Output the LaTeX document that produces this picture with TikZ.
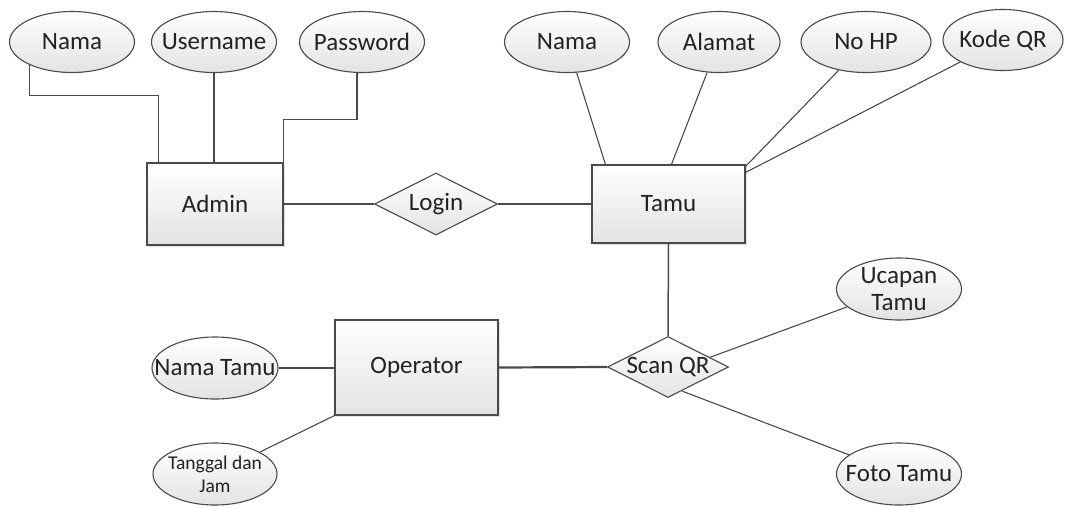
\documentclass[tikz,border=0pt]{standalone}
\usepackage{fontspec}
\setmainfont{Carlito}
\usetikzlibrary{shapes.geometric,shadows}

\definecolor{edge}{HTML}{4A4A4A}
\definecolor{ink}{HTML}{222222}

% text that does not widen the ellipse around it
\newcommand{\ztxt}[1]{\makebox[0pt]{#1}}

\tikzset{
  base/.style={draw=edge, line width=1.1pt, text=ink, inner sep=0pt,
    font=\fontsize{25}{27}\selectfont, top color=white, bottom color=black!11},
  attr/.style={base, ellipse, minimum width=125pt, minimum height=61pt},
  entity/.style={base, rectangle, align=center,
    drop shadow={shadow xshift=2pt, shadow yshift=-2pt, opacity=0.25, fill=black!45}},
  rel/.style={base, diamond, aspect=2},
  thin link/.style={draw=edge, line width=1.1pt},
  thick link/.style={draw=edge, line width=2.2pt},
}

\begin{document}
\begin{tikzpicture}[x=1pt, y=-1pt]
\useasboundingbox (0,0) rectangle (1068,507);

% entities
\node[entity, minimum width=136pt, minimum height=82pt] (admin) at (215,204) {Admin};
\node[entity, minimum width=153pt, minimum height=78pt] (tamu) at (668.5,204) {Tamu};
\node[entity, minimum width=163pt, minimum height=95pt] (op) at (416.5,367.5) {Operator};

% relationships
\node[rel, minimum width=123pt, minimum height=62pt] (login) at (436,204) {\ztxt{Login}};
\node[rel, minimum width=121pt, minimum height=61pt] (scan) at (668,367) {\ztxt{Scan QR}};

% attributes of Admin
\node[attr] (anama) at (72,42) {\ztxt{Nama}};
\node[attr] (auser) at (214,42) {\ztxt{Username}};
\node[attr] (apass) at (362,42) {\ztxt{Password}};

% attributes of Tamu
\node[attr] (tnama) at (567,42) {\ztxt{Nama}};
\node[attr, minimum width=122pt] (talamat) at (719,42) {\ztxt{Alamat}};
\node[attr, minimum width=130pt] (thp) at (866,42) {\ztxt{No HP}};
\node[attr, minimum width=120pt] (tqr) at (1003,40) {\ztxt{Kode QR}};

% attributes of Operator
\node[attr, minimum width=126pt, minimum height=62pt] (onama) at (215,368) {\ztxt{Nama Tamu}};
\node[attr, minimum width=124pt, minimum height=62pt, align=center,
      font=\fontsize{19.5}{23}\selectfont] (otgl) at (215,474) {\ztxt{Tanggal dan}\\\ztxt{Jam}};

% attributes of Scan QR
\node[attr, minimum width=125pt, minimum height=62pt, align=center] (sucap) at (899,289) {\ztxt{Ucapan}\\\ztxt{Tamu}};
\node[attr, minimum width=125pt, minimum height=62pt] (sfoto) at (899,474) {\ztxt{Foto Tamu}};

% Admin attribute links (orthogonal)
\draw[thin link] (anama.208) -- ++(0,31) -| ([xshift=12pt]admin.north west);
\draw[thin link] (auser.south) -- (auser.south |- admin.north);
\draw[thin link] ([xshift=-5pt]apass.south) -- ++(0,46) -| (admin.north east);

% Tamu attribute links
\draw[thin link] (tnama) -- ([xshift=14pt]tamu.north west);
\draw[thin link] (talamat) -- ([xshift=80pt]tamu.north west);
\draw[thin link] (thp) -- ([yshift=-2pt]tamu.north east);
\draw[thin link] (tqr) -- ([yshift=-8pt]tamu.north east);

% Operator attribute links
\draw[thin link] (onama) -- (op.west |- onama);
\draw[thin link] (otgl) -- (op.south west);

% Scan QR attribute links
\draw[thin link] (scan.13) -- (sucap.199);
\draw[thin link] (scan.300) -- (sfoto.159);

% relationship links
\draw[thick link] (admin.east) -- (login.west);
\draw[thick link] (login.east) -- (tamu.west);
\draw[thick link] (op.east) -- (scan.west);
\draw[thin link, line width=1.5pt] (tamu.south) -- (scan.north);
\end{tikzpicture}
\end{document}
